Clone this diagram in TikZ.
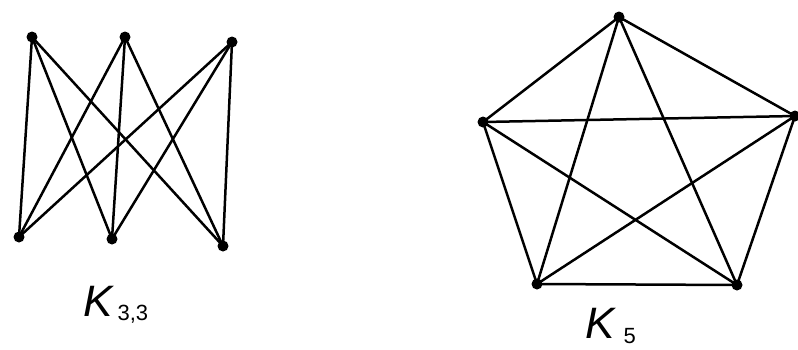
\documentclass[tikz,border=0pt]{standalone}
\usepackage{fontspec}
\setmainfont{Liberation Sans}

\begin{document}
\begin{tikzpicture}[x=1pt,y=-1pt,line cap=round,line join=round]
  \tikzset{vtx/.style={circle,fill=black,inner sep=0pt,minimum size=11pt},
    edge/.style={draw=black,line width=2.5pt},
    glabel/.style={anchor=base west,inner sep=0pt}}
  \useasboundingbox (0,0) rectangle (798,349);
  % K_{3,3}
  \node[vtx] (a1) at (32,37) {};
  \node[vtx] (a2) at (125,37) {};
  \node[vtx] (a3) at (232,42) {};
  \node[vtx] (b1) at (19,237) {};
  \node[vtx] (b2) at (112,239) {};
  \node[vtx] (b3) at (223,246) {};
  \foreach \u in {a1,a2,a3}
    \foreach \v in {b1,b2,b3}
      \draw[edge] (\u.center) -- (\v.center);
  \node[glabel] (lab33) at (83,316) {\fontsize{44}{44}\selectfont\itshape K\hspace{5pt}\raisebox{-4pt}{\fontsize{22}{22}\selectfont\upshape 3,3}};
  % K_5
  \node[vtx] (p1) at (619,17) {};
  \node[vtx] (p2) at (795,116) {};
  \node[vtx] (p3) at (737,285) {};
  \node[vtx] (p4) at (537,284) {};
  \node[vtx] (p5) at (483,122) {};
  \foreach \u/\v in {p1/p2,p1/p3,p1/p4,p1/p5,p2/p3,p2/p4,p2/p5,p3/p4,p3/p5,p4/p5}
    \draw[edge] (\u.center) -- (\v.center);
  \node[glabel] (lab5) at (585,338) {\fontsize{44}{44}\selectfont\itshape K\hspace{9pt}\raisebox{-5pt}{\fontsize{22}{22}\selectfont\upshape 5}};
\end{tikzpicture}
\end{document}
